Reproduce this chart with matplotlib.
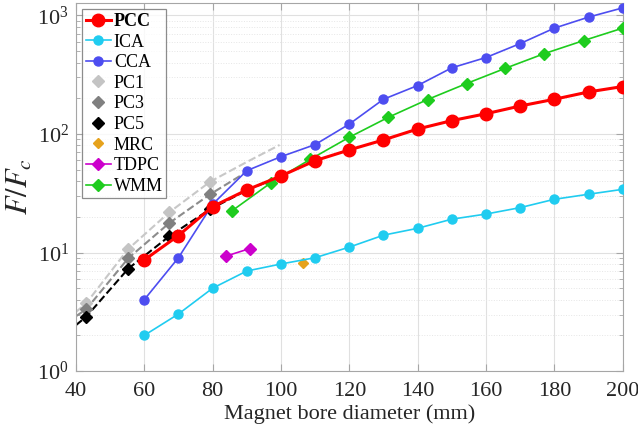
import matplotlib
matplotlib.use('Agg')
from matplotlib import pyplot as plt
from matplotlib.ticker import LogLocator, NullFormatter

# data
bore = [60, 70, 80, 90, 100, 110, 120, 130, 140, 150, 160, 170, 180, 190, 200]
pcc = [8.65, 13.9, 24.4, 33.7, 44.2, 59.5, 73.3, 89, 110, 129.5, 148, 172, 196, 226, 251]
ica = [2.0, 3.03, 5.0, 6.98, 8.0, 9.04, 11.1, 14.0, 16.0, 19.1, 21.1, 23.9, 28.1, 31.0, 34.1]
cca = [4.0, 9.04, 25.5, 49, 64.3, 81.3, 121, 196, 256, 361, 441, 578, 780, 966, 1156]

pc_x = [43, 55.3, 67.3, 79.3]
pc1 = [3.73, 10.7, 21.8, 39.6]
pc3 = [3.32, 8.93, 17.7, 31.0]
pc5 = [2.87, 7.3, 13.7, 23.2]

# dashed trend curves
pc1_fit_x = [40, 43, 55.3, 67.3, 79.3, 90, 99.6]
pc1_fit = [3.15, 3.73, 10.7, 21.8, 39.6, 58, 80.7]
pc3_fit_x = [40, 43, 55.3, 67.3, 79.3, 89]
pc3_fit = [2.9, 3.32, 8.93, 17.7, 31.0, 46]
pc5_fit_x = [40, 43, 55.3, 67.3, 79.3, 90, 99.6]
pc5_fit = [2.44, 2.87, 7.3, 13.7, 23.2, 33.5, 43.6]

mrc_x = [106.5]
mrc = [8.1]
tdpc_x = [84, 90.9]
tdpc = [9.34, 10.8]
wmm_x = [85.7, 97.1, 108.6, 120, 131.4, 142.9, 154.3, 165.7, 177.1, 188.6, 200]
wmm = [22.5, 38.8, 61.1, 93.8, 138, 195, 266, 358, 476, 613, 780]

plt.rcParams['font.family'] = ['Liberation Serif', 'DejaVu Serif']
plt.rcParams['mathtext.fontset'] = 'stix'

fig = plt.figure(figsize=(6.38, 4.33), dpi=100)
ax = fig.add_axes([0.119, 0.143, 0.857, 0.850])

# dashed fits (no legend)
ax.plot(pc1_fit_x, pc1_fit, '--', color='#c8c8c8', lw=1.5, zorder=2)
ax.plot(pc3_fit_x, pc3_fit, '--', color='#8c8c8c', lw=1.5, zorder=2)
ax.plot(pc5_fit_x, pc5_fit, '--', color='black', lw=1.5, zorder=2)

ax.plot(bore, pcc, '-o', color='#ff0000', lw=2.2, ms=9, label='PCC', zorder=5)
ax.plot(bore, ica, '-o', color='#20ccf0', lw=1.2, ms=6.5, label='ICA', zorder=4)
ax.plot(bore, cca, '-o', color='#4d4df0', lw=1.2, ms=6.5, label='CCA', zorder=4)
ax.plot(pc_x, pc1, 'D', color='#c4c4c4', ms=6, ls='none', label='PC1', zorder=3)
ax.plot(pc_x, pc3, 'D', color='#808080', ms=6, ls='none', label='PC3', zorder=3)
ax.plot(pc_x, pc5, 'D', color='black', ms=6, ls='none', label='PC5', zorder=3)
ax.plot(mrc_x, mrc, 'D', color='#e6a21c', ms=5, ls='none', label='MRC', zorder=3)
ax.plot(tdpc_x, tdpc, '-D', color='#cc00cc', lw=1.2, ms=6, label='TDPC', zorder=4)
ax.plot(wmm_x, wmm, '-D', color='#1ecc1e', lw=1.2, ms=6, label='WMM', zorder=4)

ax.set_yscale('log')
ax.set_xlim(40, 200)
ax.set_ylim(1, 1270)
ax.set_xticks(range(40, 201, 20))
ax.yaxis.set_major_locator(LogLocator(base=10, numticks=10))
ax.yaxis.set_minor_locator(LogLocator(base=10, subs=range(2, 10), numticks=20))
ax.yaxis.set_minor_formatter(NullFormatter())

# grid, matlab style
ax.grid(True, which='major', color='#e0e0e0', lw=0.8)
ax.grid(True, which='minor', axis='y', color='#e6e6e6', lw=0.7, ls=':')
ax.set_axisbelow(True)

for s in ax.spines.values():
    s.set_color('#a6a6a6')
ax.tick_params(which='both', direction='in', top=True, right=True,
               color='#a6a6a6', labelsize=16, labelcolor='#262626')
ax.tick_params(which='major', length=5)
ax.tick_params(which='minor', length=3)
ax.tick_params(axis='x', pad=8)
ax.tick_params(axis='y', pad=5)

ax.set_xlabel('Magnet bore diameter (mm)', fontsize=16, color='#262626', labelpad=2)
ax.set_ylabel(r'$F/F_c$', fontsize=22, color='#262626', labelpad=2)

leg = ax.legend(loc='upper left', fontsize=13, frameon=True, fancybox=False,
                edgecolor='#707070', borderaxespad=0.35, labelspacing=0.2,
                handlelength=1.4, handletextpad=0.15, borderpad=0.2)
leg.get_frame().set_linewidth(0.9)
leg.get_texts()[0].set_fontweight('bold')

fig.savefig('out.png', dpi=100)
